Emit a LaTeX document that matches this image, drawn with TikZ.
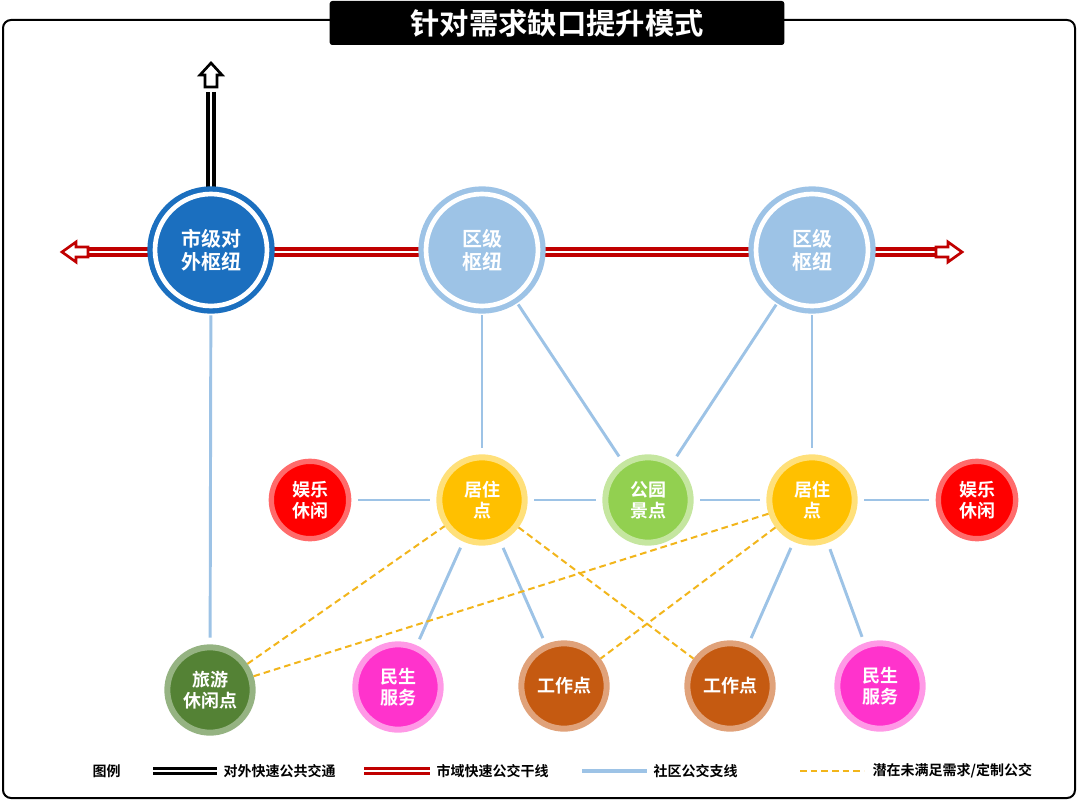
\documentclass[tikz,border=0pt]{standalone}
\usepackage{fontspec}
\setmainfont{Noto Sans CJK SC}[BoldFont={* Bold}]
\usetikzlibrary{calc, arrows.meta}
\definecolor{cityblue}{HTML}{1B6FBF}
\definecolor{distblue}{HTML}{9DC3E6}
\definecolor{trunkred}{HTML}{C00000}
\definecolor{fun}{HTML}{FF0000}
\definecolor{funring}{HTML}{FF6B6B}
\definecolor{home}{HTML}{FFC000}
\definecolor{homering}{HTML}{FFE07A}
\definecolor{park}{HTML}{92D050}
\definecolor{parkring}{HTML}{C5E6A0}
\definecolor{tour}{HTML}{548235}
\definecolor{tourring}{HTML}{95B382}
\definecolor{serv}{HTML}{FF33CC}
\definecolor{servring}{HTML}{FF99E6}
\definecolor{work}{HTML}{C55A11}
\definecolor{workring}{HTML}{E0A27A}
\definecolor{demand}{HTML}{F2B51B}
\begin{document}
\begin{tikzpicture}[x=0.75pt, y=-0.75pt,
  hub/.style={circle, fill=#1, draw=#1, double=white, double distance=3.5pt, line width=4pt, minimum size=84pt, inner sep=0pt, text=white, font=\bfseries\fontsize{15}{17}\selectfont, align=center},
  place/.style 2 args={circle, fill=#1, draw=#2, line width=4.5pt, minimum size=64pt, inner sep=0pt, text=white, font=\bfseries\fontsize{13.5}{15.5}\selectfont, align=center},
  small/.style 2 args={circle, fill=#1, draw=#2, line width=4pt, minimum size=58pt, inner sep=0pt, text=white, font=\bfseries\fontsize{13.5}{15.5}\selectfont, align=center},
  branch/.style={distblue, line width=2.2pt, shorten <=5pt, shorten >=5pt},
  potential/.style={demand, line width=1.5pt, dash pattern=on 5pt off 3pt},
  redtrunk/.style={trunkred, line width=7pt},
  blackline/.style={black, line width=7pt},
  gap/.style={white, line width=2pt},
  openarrow/.style={fill=white, draw=#1, line width=2pt, line join=miter},
  legendtext/.style={font=\bfseries\fontsize{10.5}{12}\selectfont, anchor=west}
]
\useasboundingbox (0,0) rectangle (1080,802);
% frame and title
\draw[line width=1.5pt, rounded corners=6pt] (3,20) rectangle (1075,798);
\node[fill=black, text=white, minimum width=341pt, minimum height=33pt, rounded corners=2pt, font=\bfseries\fontsize{22}{24}\selectfont] (title) at (557,23) {针对需求缺口提升模式};

% trunk lines
\draw[redtrunk] (88,252) -- (935,252);
\draw[gap] (88,252) -- (935,252);
\draw[openarrow=trunkred] (62,252) -- (76,242) -- (76,247) -- (88,247) -- (88,257) -- (76,257) -- (76,262) -- cycle;
\draw[openarrow=trunkred] (962,252) -- (948,242) -- (948,247) -- (936,247) -- (936,257) -- (948,257) -- (948,262) -- cycle;
\draw[blackline] (211,92) -- (211,190);
\draw[gap] (211,92) -- (211,190);
\draw[openarrow=black] (211,63) -- (200,75) -- (205,75) -- (205,87) -- (217,87) -- (217,75) -- (222,75) -- cycle;

% hubs
\node[hub=cityblue] (city) at (211,250) {市级对\\外枢纽};
\node[hub=distblue] (distA) at (482,250) {区级\\枢纽};
\node[hub=distblue] (distB) at (812,250) {区级\\枢纽};

% local points
\node[small={fun}{funring}] (funA) at (310,500) {娱乐\\休闲};
\node[place={home}{homering}] (homeA) at (482,500) {居住\\点};
\node[place={park}{parkring}] (parkC) at (648,500) {公园\\景点};
\node[place={home}{homering}] (homeB) at (812,500) {居住\\点};
\node[small={fun}{funring}] (funB) at (977,500) {娱乐\\休闲};
\node[place={tour}{tourring}] (tour) at (210,690) {旅游\\休闲点};
\node[place={serv}{servring}] (servA) at (398,687) {民生\\服务};
\node[place={work}{workring}] (workA) at (564,686) {工作点};
\node[place={work}{workring}] (workB) at (730,686) {工作点};
\node[place={serv}{servring}] (servB) at (880,686) {民生\\服务};

% community branch lines
\draw[branch] (city) -- (tour);
\draw[branch] (distA) -- (homeA);
\draw[branch] (distA) -- (parkC);
\draw[branch] (distB) -- (parkC);
\draw[branch] (distB) -- (homeB);
\draw[branch] (funA) -- (homeA);
\draw[branch] (homeA) -- (parkC);
\draw[branch] (parkC) -- (homeB);
\draw[branch] (homeB) -- (funB);
\draw[branch] (homeA) -- (servA);
\draw[branch] (homeA) -- (workA);
\draw[branch] (homeB) -- (workB);
\draw[branch] (homeB) -- (servB);

% potential demand
\draw[potential] (tour) -- (homeA);
\draw[potential] (tour) -- (homeB);
\draw[potential] (homeA) -- (workB);
\draw[potential] (homeB) -- (workA);

% legend
\node[legendtext] (lgTitle) at (88,771) {图例};
\coordinate (lgBlackA) at (153,771);
\coordinate (lgBlackB) at (217,771);
\draw[black, line width=6pt] (lgBlackA) -- (lgBlackB);
\draw[white, line width=1.5pt] (lgBlackA) -- (lgBlackB);
\node[legendtext] (lgBlack) at (219,771) {对外快速公共交通};
\coordinate (lgRedA) at (364,771);
\coordinate (lgRedB) at (430,771);
\draw[trunkred, line width=6pt] (lgRedA) -- (lgRedB);
\draw[white, line width=1.5pt] (lgRedA) -- (lgRedB);
\node[legendtext] (lgRed) at (432,771) {市域快速公交干线};
\coordinate (lgBlueA) at (582,771);
\coordinate (lgBlueB) at (647,771);
\draw[distblue, line width=3pt] (lgBlueA) -- (lgBlueB);
\node[legendtext] (lgBlue) at (649,771) {社区公交支线};
\coordinate (lgDashA) at (800,771);
\coordinate (lgDashB) at (864,771);
\draw[potential] (lgDashA) -- (lgDashB);
\node[legendtext] (lgDash) at (868,771) {潜在未满足需求/定制公交};
\end{tikzpicture}
\end{document}
